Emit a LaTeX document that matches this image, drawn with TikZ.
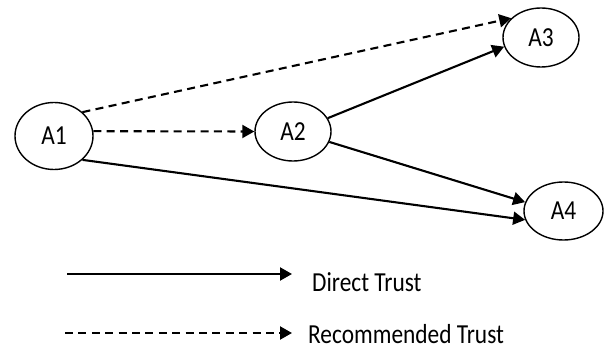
\documentclass[tikz,border=0pt]{standalone}
\usepackage{fontspec}
\setmainfont{Carlito}[FakeStretch=0.85]
\usetikzlibrary{arrows.meta,shapes.geometric}
\begin{document}
\begin{tikzpicture}[x=1pt,y=-1pt,
  agent/.style={ellipse,draw,line width=1.4pt,inner sep=0pt,font=\fontsize{27.5}{30}\selectfont},
  link/.style={line width=2.1pt,-{Triangle[length=12pt,width=13pt]}},
  rec/.style={link,dash pattern=on 8pt off 5.4pt},
  legendtext/.style={anchor=base west,inner sep=0pt,font=\fontsize{27.5}{30}\selectfont}]
\useasboundingbox (0,0) rectangle (605,350);
\node[agent,minimum width=78pt,minimum height=67pt] (a1) at (54,136) {A1};
\node[agent,minimum width=76pt,minimum height=59pt] (a2) at (293,131.5) {A2};
\node[agent,minimum width=76pt,minimum height=59pt] (a3) at (541,37.5) {A3};
\node[agent,minimum width=79pt,minimum height=58pt] (a4) at (563.5,211) {A4};
\draw[rec] (a1.40) -- (a3.147);
\draw[rec] (a1.7) -- (a2.180);
\draw[link] (a2.21) -- (a3.194);
\draw[link] (a2.-16) -- (a4.167);
\draw[link] (a1.-40) -- (a4.193);
\coordinate (l1s) at (67,274);
\coordinate (l1e) at (292,274);
\coordinate (l2s) at (65,333);
\coordinate (l2e) at (292,333);
\draw[link] (l1s) -- (l1e);
\draw[rec] (l2s) -- (l2e);
\node[legendtext] (t1) at (312,291) {Direct Trust};
\node[legendtext] (t2) at (308,343) {Recommended Trust};
\end{tikzpicture}
\end{document}
